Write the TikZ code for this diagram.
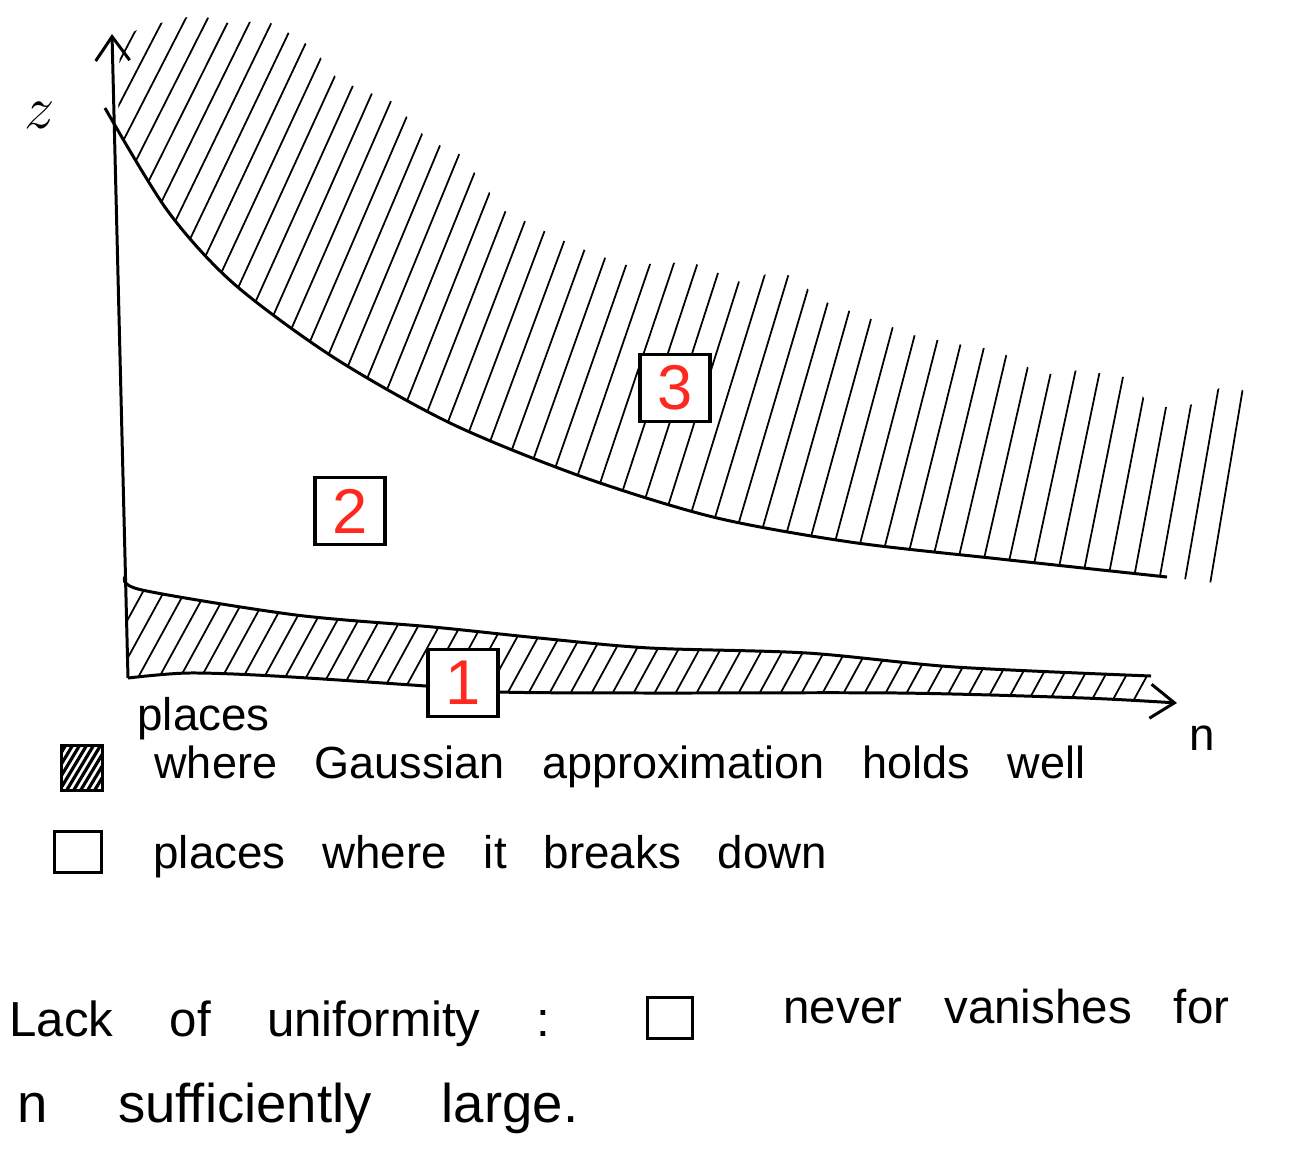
\documentclass[tikz,border=0pt]{standalone}
\usepackage{fontspec}
\setmainfont{Liberation Sans}[WordSpace=3]
\usetikzlibrary{arrows.meta}
\definecolor{numred}{RGB}{255,40,30}
\newcommand\wordgap[1]{\spaceskip #1\relax}
\tikzset{
  numbox/.style={draw,fill=white,line width=1.1pt,minimum width=0.70cm,minimum height=0.67cm,inner sep=0pt,text=numred,font=\fontsize{18}{18}\selectfont},
  hand/.style={font=\fontsize{13}{15}\selectfont,anchor=base west,inner sep=0pt},
  hatch/.style={line width=0.5pt},
  keybox/.style={draw,line width=1pt,inner sep=0pt},
}

\begin{document}
\begin{tikzpicture}[x=0.01cm,y=-0.01cm,>={Straight Barb[length=2.4mm,width=3.4mm]},line width=0.85pt]
\useasboundingbox (0,0) rectangle (1292,1154);
% axes
\coordinate (O) at (128,678);
\coordinate (ytip) at (112,34);
\coordinate (xtip) at (1177,703);
\draw[->] (O) -- (ytip);
\draw[->] plot[smooth] coordinates {(O) (188,673) (275,676) (426,686) (500,692) (650,693) (899,693) (1084,698) (xtip)};
\node (zlab) at (40,115) {\fontsize{17}{17}\selectfont$z$};
\node[hand] (nlab) at (1188,750) {n};

% upper curve and region 3
\draw plot[smooth] coordinates {(105,108) (167,210) (233,283) (333,357) (450,423) (580,476) (713,517) (850,542) (1000,559) (1167,577)};
\begin{scope}
  \clip plot[smooth] coordinates {(105,108) (167,210) (233,283) (333,357) (450,423) (580,476) (713,517) (850,542) (1000,559) (1167,577)}
    -- (1232,585) -- (1272,405) -- (1228,383) -- (1187,407) -- (1150,407) -- (1130,378) -- (1080,370) -- (1042,375)
    -- (997,350) -- (963,345) -- (913,335) -- (826,302) -- (781,270) -- (740,282) -- (691,262) -- (624,265)
    -- (572,245) -- (503,210) -- (461,155) -- (428,140) -- (393,102) -- (338,80) -- (313,48)
    -- (284,30) -- (265,20) -- (232,24) -- (198,15) -- (173,20) -- (140,28) -- (120,40) -- (118,125) -- cycle;
  \foreach \x in {-200,-174,...,1210} {
    \pgfmathsetmacro\dx{(0.48-0.00026*\x)*620}
    \draw[hatch] (\x,620) -- ++(\dx,-620);
  }
\end{scope}

% lower band, region 1
\draw plot[smooth] coordinates {(125,577) (142,590) (296,615) (433,627) (539,638) (650,648) (807,653) (955,667) (1151,676)};
\begin{scope}
  \clip plot[smooth] coordinates {(125,577) (142,590) (296,615) (433,627) (539,638) (650,648) (807,653) (955,667) (1151,676)}
    -- plot[smooth] coordinates {(1151,700) (1084,698) (899,693) (650,693) (500,692) (426,686) (275,676) (188,673) (128,677)} -- cycle;
  \foreach \x in {60,81,...,1180} \draw[hatch] (\x,705) -- ++(70,-128);
\end{scope}

% numbered regions
\node[numbox] (three) at (675,388) {3};
\node[numbox] (two) at (350,511) {2};
\node[numbox] (one) at (463,683) {1};

% legend
\node[hand] (places) at (136,730) {places};
\node[keybox,minimum width=0.41cm,minimum height=0.45cm,
  path picture={\foreach \k in {0,...,9} \draw[line width=0.9pt] (path picture bounding box.south west) ++(\k*7-30,0) -- ++(30,-50);}]
  (keygood) at (82,768) {};
\node[hand,font=\fontsize{12.8}{15}\selectfont] (textgood) at (153,778) {where Gaussian approximation holds well};
\node[keybox,minimum width=0.47cm,minimum height=0.41cm] (keybad) at (78,852) {};
\node[hand,font=\fontsize{13}{15}\selectfont\wordgap{10.5pt}] (textbad) at (152,868) {places where it breaks down};

% remark
\node[hand,font=\fontsize{14}{16}\selectfont\wordgap{16pt}] (lack) at (8,1036) {Lack of uniformity :};
\node[keybox,minimum width=0.45cm,minimum height=0.41cm] (keylack) at (670,1018) {};
\node[hand,font=\fontsize{13.5}{16}\selectfont\wordgap{12pt}] (never) at (782,1023) {never vanishes for};
\node[hand,font=\fontsize{15.5}{18}\selectfont\wordgap{20pt}] (large) at (16,1122) {n sufficiently large.};
\end{tikzpicture}
\end{document}
